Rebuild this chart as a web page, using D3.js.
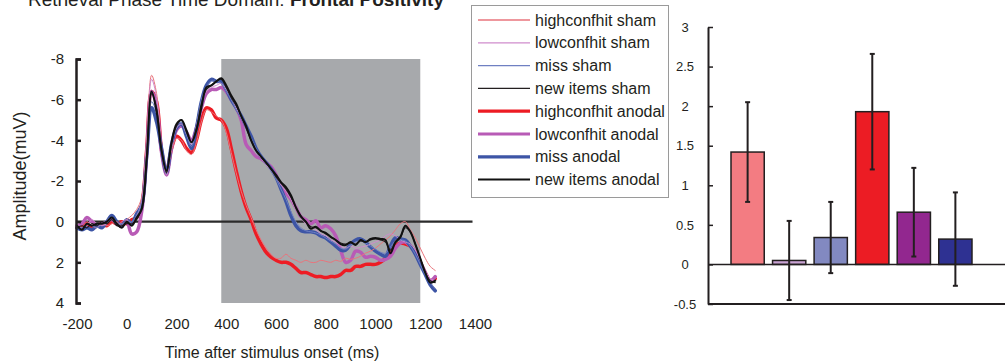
<!DOCTYPE html>
<html>
<head>
<meta charset="utf-8">
<script src="https://cdn.jsdelivr.net/npm/d3@7"></script>
<style>
  body { margin: 0; background: #fff; }
  svg { display: block; font-family: "Liberation Sans", Arial, sans-serif; }
</style>
</head>
<body>
<div id="chart"></div>
<script>
// ERP time axis (ms) and amplitudes (muV) per condition
const times = [-200,-180,-160,-140,-120,-100,-80,-60,-40,-20,0,20,40,60,80,100,120,140,160,180,200,220,240,260,280,300,320,340,360,380,400,420,440,460,480,500,520,540,560,580,600,620,640,660,680,700,720,740,760,780,800,820,840,860,880,900,920,940,960,980,1000,1020,1040,1060,1080,1100,1120,1140,1160,1180,1200,1220,1240];

const highconfhitSham = [0.2,0.3,0.0,0.2,0.3,0.1,0.2,0.1,0.0,0.2,
  -0.1,-0.3,-0.6,-1.2,-4.0,-7.2,-6.3,-3.6,-2.4,-3.5,
  -4.1,-4.0,-3.5,-3.3,-3.9,-4.9,-5.5,-5.4,-5.2,-5.0,
  -4.4,-3.4,-2.4,-1.5,-0.8,-0.2,0.4,0.9,1.3,1.6,
  1.8,1.8,1.6,1.8,1.9,2.0,1.9,2.0,2.0,1.9,
  1.95,2.0,1.9,1.95,1.8,1.85,1.8,1.7,1.55,1.45,
  1.3,1.1,0.9,0.7,0.4,0.1,0.0,0.4,0.8,1.3,
  1.8,2.2,2.4];
const lowconfhitSham = [0.1,0.3,0.2,-0.1,0.1,0.2,0.1,-0.1,0.2,0.0,
  -0.1,0.1,-0.3,-1.0,-3.8,-7.0,-6.1,-3.5,-2.3,-3.7,
  -4.6,-4.8,-4.3,-3.8,-4.7,-5.8,-6.4,-6.6,-6.7,-6.8,
  -6.5,-6.1,-5.6,-5.1,-4.6,-4.0,-3.5,-3.1,-2.8,-2.5,
  -2.2,-1.8,-1.5,-1.1,-0.6,-0.2,0.1,0.3,0.4,0.6,
  0.7,0.9,1.0,1.2,1.3,1.2,1.3,1.25,1.2,1.1,
  1.0,0.9,0.7,0.6,0.7,0.9,1.0,1.1,1.4,1.9,
  2.4,2.8,2.9];
const missSham = [0.2,0.3,0.1,0.2,0.3,0.1,-0.1,-0.2,0.1,0.1,
  0.0,0.0,-0.3,-0.9,-3.4,-5.9,-5.3,-3.5,-2.5,-3.8,
  -4.7,-4.9,-4.3,-3.7,-4.7,-6.0,-6.6,-6.9,-6.9,-6.8,
  -6.4,-6.0,-5.5,-5.1,-4.6,-4.1,-3.6,-3.2,-2.9,-2.5,
  -2.1,-1.6,-1.1,-0.5,0.0,0.3,0.45,0.5,0.55,0.65,
  0.8,0.95,1.1,1.3,1.35,1.15,1.0,0.95,1.05,1.2,
  1.35,1.5,1.55,1.25,0.95,0.9,0.95,1.2,1.6,2.1,
  2.6,3.0,3.3];
const newItemsSham = [0.3,0.2,0.3,0.1,0.2,0.0,0.1,-0.1,0.2,0.2,
  0.1,0.1,-0.1,-0.7,-3.3,-6.3,-5.6,-3.5,-2.4,-3.8,
  -4.7,-5.0,-4.4,-3.9,-4.6,-5.8,-6.5,-6.7,-6.9,-7.0,
  -6.6,-6.1,-5.7,-5.2,-4.6,-4.0,-3.5,-3.2,-2.9,-2.6,
  -2.2,-1.9,-1.6,-1.2,-0.7,-0.3,0.0,0.25,0.3,0.45,
  0.6,0.75,0.9,1.05,1.1,1.05,1.1,0.95,1.0,0.9,
  0.85,0.9,1.0,1.4,1.05,0.8,0.3,0.5,1.1,1.8,
  2.5,2.9,3.0];
const highconfhitAnodal = [0.3,0.2,0.1,0.3,0.2,0.1,0.2,0.0,0.1,0.0,
  0.1,-0.1,-0.2,-0.8,-3.5,-6.4,-5.9,-3.5,-2.5,-3.6,
  -4.2,-4.0,-3.6,-3.4,-4.0,-5.0,-5.6,-5.5,-5.1,-5.0,
  -4.6,-3.6,-2.5,-1.5,-0.7,-0.1,0.6,1.1,1.5,1.75,
  1.9,2.0,2.0,2.1,2.3,2.5,2.5,2.6,2.7,2.7,
  2.75,2.7,2.7,2.6,2.4,2.4,2.2,2.2,2.1,2.1,
  2.1,2.0,1.8,1.5,1.2,1.05,1.1,1.2,1.5,2.0,
  2.5,2.9,2.8];
const lowconfhitAnodal = [0.2,0.1,-0.2,0.0,0.2,0.1,0.0,-0.1,0.1,0.2,
  0.0,0.6,0.5,-0.5,-3.3,-6.4,-5.7,-3.4,-2.3,-3.6,
  -4.5,-4.7,-4.4,-4.0,-4.6,-5.6,-6.3,-6.5,-6.5,-6.6,
  -6.4,-6.0,-5.6,-5.0,-3.8,-3.5,-3.2,-3.1,-2.9,-2.7,
  -2.3,-1.7,-1.4,-1.1,-0.7,-0.25,-0.1,0.1,-0.05,0.3,
  0.2,0.35,0.7,1.4,2.0,1.9,1.45,1.5,1.75,1.7,
  1.75,1.9,1.85,1.7,1.3,1.05,1.0,1.2,1.5,2.0,
  2.5,2.9,2.7];
const missAnodal = [0.3,0.4,0.3,0.4,0.2,0.3,0.0,-0.3,0.0,0.2,
  -0.1,0.1,-0.4,-0.8,-3.2,-5.6,-4.9,-3.6,-2.4,-3.8,
  -4.6,-4.8,-4.2,-3.6,-4.6,-5.9,-6.7,-7.0,-6.9,-6.9,
  -6.5,-6.0,-5.6,-5.2,-4.7,-4.2,-3.6,-3.2,-2.9,-2.6,
  -2.2,-1.6,-1.0,-0.3,0.2,0.45,0.5,0.5,0.55,0.7,
  0.8,1.0,1.2,1.4,1.4,1.1,0.9,0.85,1.0,1.25,
  1.45,1.6,1.7,1.2,0.8,0.85,0.9,1.2,1.6,2.1,
  2.6,3.1,3.4];
const newItemsAnodal = [0.2,0.4,0.1,0.2,0.1,0.1,0.0,-0.2,0.1,0.3,
  0.0,0.2,-0.2,-0.6,-3.0,-6.4,-5.4,-3.5,-2.5,-3.9,
  -4.8,-5.0,-4.5,-3.9,-4.5,-5.6,-6.6,-6.7,-6.9,-7.05,
  -6.7,-6.2,-5.8,-5.2,-4.7,-4.0,-3.5,-3.2,-2.9,-2.6,
  -2.3,-1.95,-1.7,-1.3,-0.7,-0.25,0.0,0.35,0.25,0.45,
  0.55,0.75,0.9,1.1,1.15,1.0,1.15,0.9,1.0,0.85,
  0.8,0.85,0.9,1.55,1.0,0.75,0.2,0.5,1.1,1.8,
  2.5,3.0,2.9];

const seriesNames = ["highconfhit sham", "lowconfhit sham", "miss sham", "new items sham",
  "highconfhit anodal", "lowconfhit anodal", "miss anodal", "new items anodal"];
const seriesValues = [highconfhitSham, lowconfhitSham, missSham, newItemsSham,
  highconfhitAnodal, lowconfhitAnodal, missAnodal, newItemsAnodal];

const xTicks = [-200, 0, 200, 400, 600, 800, 1000, 1200, 1400];
const yTicks = [-8, -6, -4, -2, 0, 2, 4];
const window_ = [380, 1180];   // shaded analysis window (ms)

// bar panel: mean amplitude in the window, with error
const barNames = ["highconfhit sham", "lowconfhit sham", "miss sham",
  "highconfhit anodal", "lowconfhit anodal", "miss anodal"];
const barValues = [1.42, 0.05, 0.34, 1.93, 0.66, 0.32];
const barErrors = [0.63, 0.50, 0.45, 0.73, 0.56, 0.59];
const barTicks = [-0.5, 0, 0.5, 1, 1.5, 2, 2.5, 3];

const lineColor = ["#e9747c", "#cf8ccc", "#6f80c2", "#231f20", "#ed1c24", "#b85bb6", "#3d55a6", "#111111"];
const lineWidth = [1, 1, 1, 1.2, 3.5, 3.5, 3.5, 2];
const barColor = ["#f37c82", "#c9a3d3", "#8289c1", "#ec1c24", "#92278f", "#2e3192"];

const width = 1005, height = 364;
const ink = "#231f20";
const plain = d => String(d);   // hyphen minus, no thousands comma

const svg = d3.select("#chart").append("svg")
  .attr("width", width)
  .attr("height", height);

// ---------- left: waveforms ----------
const x = d3.scaleLinear().domain([-200, 1400]).range([77, 475]);
const y = d3.scaleLinear().domain([-8, 4]).range([59, 303]);

svg.append("text")
  .attr("x", 236)
  .attr("y", 6)
  .attr("text-anchor", "middle")
  .attr("font-size", 19)
  .attr("fill", ink)
  .call(t => t.append("tspan").text("Retrieval Phase Time Domain: "))
  .call(t => t.append("tspan").attr("font-weight", "bold").text("Frontal Positivity"));

svg.append("rect")
  .attr("x", x(window_[0]))
  .attr("y", y(-8))
  .attr("width", x(window_[1]) - x(window_[0]))
  .attr("height", y(4) - y(-8))
  .attr("fill", "#a7a9ac");

svg.append("line")
  .attr("x1", x(-200)).attr("x2", x(1390))
  .attr("y1", y(0)).attr("y2", y(0))
  .attr("stroke", "#2b2b2b")
  .attr("stroke-width", 2.2);

const line = d3.line()
  .x((d, i) => x(times[i]))
  .y(d => y(d))
  .curve(d3.curveCatmullRom.alpha(0.5));

// thick anodal first, then thin sham, black anodal on top
const drawOrder = [4, 5, 6, 0, 1, 2, 3, 7];
svg.append("g")
    .attr("fill", "none")
    .attr("stroke-linejoin", "round")
    .attr("stroke-linecap", "round")
  .selectAll("path")
  .data(drawOrder)
  .join("path")
    .attr("d", k => line(seriesValues[k]))
    .attr("stroke", k => lineColor[k])
    .attr("stroke-width", k => lineWidth[k]);

const yAxis = g => g
  .attr("transform", `translate(${x(-200) - 1},0)`)
  .call(d3.axisLeft(y).tickValues(yTicks).tickSize(-5).tickPadding(12).tickFormat(plain))
  .call(g => g.select(".domain").attr("stroke", ink).attr("stroke-width", 2.5))
  .call(g => g.selectAll(".tick line").attr("stroke", ink).attr("stroke-width", 2.5))
  .call(g => g.selectAll(".tick text")
      .attr("font-size", 15)
      .attr("font-family", "Liberation Sans, Arial, sans-serif")
      .attr("fill", ink));
svg.append("g").call(yAxis);

const xAxis = g => g
  .attr("transform", `translate(0,${y(4)})`)
  .call(d3.axisBottom(x).tickValues(xTicks).tickSize(0).tickPadding(15).tickFormat(plain))
  .call(g => g.select(".domain").remove())
  .call(g => g.selectAll(".tick text")
      .attr("font-size", 15)
      .attr("font-family", "Liberation Sans, Arial, sans-serif")
      .attr("fill", ink));
svg.append("g").call(xAxis);

svg.append("text")
  .attr("x", 272)
  .attr("y", 358)
  .attr("text-anchor", "middle")
  .attr("font-size", 16)
  .attr("fill", ink)
  .text("Time after stimulus onset (ms)");

svg.append("text")
  .attr("transform", `translate(26,${176}) rotate(-90)`)
  .attr("text-anchor", "middle")
  .attr("font-size", 18)
  .attr("fill", ink)
  .text("Amplitude(muV)");

// legend
const legend = svg.append("g");
legend.append("rect")
  .attr("x", 471.5).attr("y", 5.5)
  .attr("width", 197).attr("height", 192)
  .attr("fill", "#fff")
  .attr("stroke", "#9a9a9a");
const row = legend.selectAll("g.item")
  .data(seriesNames)
  .join("g")
    .attr("class", "item")
    .attr("transform", (d, i) => `translate(0,${20 + i * 22.8})`);
row.append("line")
  .attr("x1", 478).attr("x2", 530)
  .attr("stroke", (d, i) => lineColor[i])
  .attr("stroke-width", (d, i) => i < 4 ? 1.3 : (i === 7 ? 2 : 3.2));
row.append("text")
  .attr("x", 535)
  .attr("y", 5.5)
  .attr("font-size", 16)
  .attr("fill", ink)
  .text(d => d);

// ---------- right: bar chart ----------
const bx = d3.scaleBand().domain(barNames).range([731, 972]).paddingInner(0.2).paddingOuter(0);
const by = d3.scaleLinear().domain([-0.5, 3]).range([304, 27]);

svg.append("g")
    .attr("stroke", ink)
    .attr("stroke-width", 1.5)
  .selectAll("rect")
  .data(barValues)
  .join("rect")
    .attr("x", (d, i) => bx(barNames[i]))
    .attr("y", d => by(Math.max(0, d)))
    .attr("width", bx.bandwidth())
    .attr("height", d => Math.abs(by(d) - by(0)))
    .attr("fill", (d, i) => barColor[i]);

svg.append("line")
  .attr("x1", 708).attr("x2", width)
  .attr("y1", by(0)).attr("y2", by(0))
  .attr("stroke", ink).attr("stroke-width", 1.5);
svg.append("line")
  .attr("x1", 708).attr("x2", width)
  .attr("y1", by(-0.5)).attr("y2", by(-0.5))
  .attr("stroke", ink).attr("stroke-width", 2);

const err = svg.append("g")
    .attr("stroke", ink)
    .attr("stroke-width", 2)
  .selectAll("g")
  .data(barValues)
  .join("g")
    .attr("transform", (d, i) => `translate(${bx(barNames[i]) + bx.bandwidth() / 2},0)`);
err.append("line")
  .attr("y1", (d, i) => by(d - barErrors[i]))
  .attr("y2", (d, i) => by(d + barErrors[i]));
err.append("line")
  .attr("x1", -2.5).attr("x2", 2.5)
  .attr("y1", (d, i) => by(d - barErrors[i]))
  .attr("y2", (d, i) => by(d - barErrors[i]));
err.append("line")
  .attr("x1", -2.5).attr("x2", 2.5)
  .attr("y1", (d, i) => by(d + barErrors[i]))
  .attr("y2", (d, i) => by(d + barErrors[i]));

const barAxis = g => g
  .attr("transform", "translate(708,0)")
  .call(d3.axisLeft(by).tickValues(barTicks).tickSize(-5).tickSizeOuter(0).tickPadding(23).tickFormat(plain))
  .call(g => g.select(".domain").attr("stroke", ink).attr("stroke-width", 2))
  .call(g => g.selectAll(".tick line").attr("stroke", ink).attr("stroke-width", 1.5))
  .call(g => g.selectAll(".tick text")
      .attr("text-anchor", "middle")
      .attr("font-size", 13)
      .attr("font-family", "Liberation Sans, Arial, sans-serif")
      .attr("fill", ink));
svg.append("g").call(barAxis);
</script>
</body>
</html>
